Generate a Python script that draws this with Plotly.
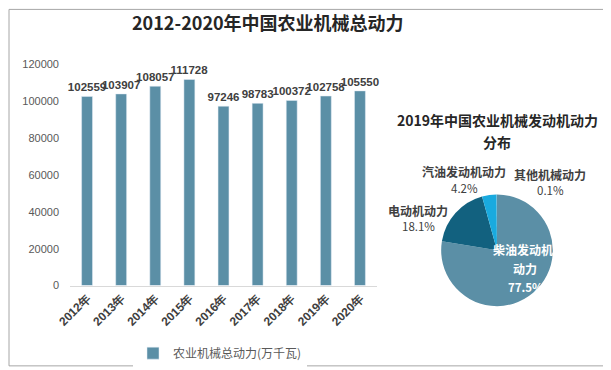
import plotly.graph_objects as go

years = ["2012年", "2013年", "2014年", "2015年", "2016年", "2017年", "2018年", "2019年", "2020年"]
power = [102559, 103907, 108057, 111728, 97246, 98783, 100372, 102758, 105550]
bar_name = "农业机械总动力(万千瓦)"
y_ticks = [0, 20000, 40000, 60000, 80000, 100000, 120000]

pie_labels = ["柴油发动机动力", "电动机动力", "汽油发动机动力", "其他机械动力"]
pie_values = [77.5, 18.1, 4.2, 0.1]
pie_colors = ["#5B8FA6", "#12617F", "#19AADF", "#7FB3CC"]

W, H = 611, 370
ML, MR, MT, MB = 62, 10, 20, 60
PW, PH = W - ML - MR, H - MT - MB


def px(x):
    return (x - ML) / PW


def py(y):
    return (H - MB - y) / PH


fig = go.Figure()
fig.add_trace(go.Bar(
    x=years, y=power, name=bar_name, marker_color="#5B8FA6", width=0.32,
    text=[str(v) for v in power], textposition="outside", cliponaxis=False,
    constraintext="none",
    textfont=dict(family="Liberation Sans", size=11.5, color="#404040"),
    texttemplate="<b>%{text}</b>", showlegend=True,
))

fig.add_trace(go.Pie(
    labels=pie_labels, values=pie_values, sort=False, direction="clockwise",
    rotation=0, marker=dict(colors=pie_colors, line=dict(color="white", width=0)),
    textinfo="none", hoverinfo="label+percent", showlegend=False,
    domain=dict(x=[px(489 - 57), px(489 + 57)], y=[py(247 + 57), py(247 - 57)]),
))


def ann(text, x, y, size, color, bold=False):
    t = "<b>%s</b>" % text if bold else text
    return dict(text=t, x=px(x), y=py(y), xref="paper", yref="paper", showarrow=False,
                font=dict(family="Noto Sans CJK SC", size=size, color=color),
                xanchor="center", yanchor="middle")


annotations = [
    ann("2012-2020年中国农业机械总动力", 260, 14, 18, "#262626", True),
    ann("2019年中国农业机械发动机动力", 489, 114, 14, "#262626", True),
    ann("分布", 489, 136, 14, "#262626", True),
]

# diesel (inside, white)
annotations.append(ann(pie_labels[0][:5], 515, 246, 12, "white", True))
annotations.append(ann(pie_labels[0][5:], 517, 266, 12, "white", True))
annotations.append(ann("%.1f%%" % pie_values[0], 517, 284, 11.5, "white", True))

# outside labels: (name x, name y, pct y)
out_pos = {1: (410, 206, 222), 2: (456, 167, 183), 3: (542, 170, 185)}
for i, (lx, ny, vy) in out_pos.items():
    annotations.append(ann(pie_labels[i], lx, ny, 12, "#404040", True))
    annotations.append(ann("%.1f%%" % pie_values[i], lx, vy, 11.5, "#404040", False))

fig.update_layout(
    width=W, height=H, margin=dict(l=ML, r=MR, t=MT, b=MB),
    paper_bgcolor="white", plot_bgcolor="white",
    bargap=0.68,
    xaxis=dict(domain=[0, px(369)], tickangle=-45, showgrid=False, showline=True,
               linecolor="#D9D9D9", linewidth=1, ticks="",
               tickfont=dict(family="Liberation Sans", size=12, color="#404040")),
    yaxis=dict(domain=[py(283), py(57)], range=[0, 120000], tickvals=y_ticks,
               ticktext=[str(v) for v in y_ticks], ticklabelstandoff=10,
               showgrid=False, zeroline=False, showline=False, ticks="",
               tickfont=dict(family="Liberation Sans", size=11, color="#595959")),
    legend=dict(orientation="h", x=px(212), y=py(352), xanchor="center", yanchor="middle",
                font=dict(family="Noto Sans CJK SC", size=12, color="#595959"),
                itemwidth=30),
    annotations=annotations,
    shapes=[dict(type="rect", xref="paper", yref="paper",
                 x0=px(1), x1=px(608), y0=py(365), y1=py(1),
                 line=dict(color="#A6A6A6", width=1), fillcolor="rgba(0,0,0,0)", layer="below")],
)

fig.update_xaxes(tickprefix="<b>", ticksuffix="</b>")

fig.write_html("out.html")
